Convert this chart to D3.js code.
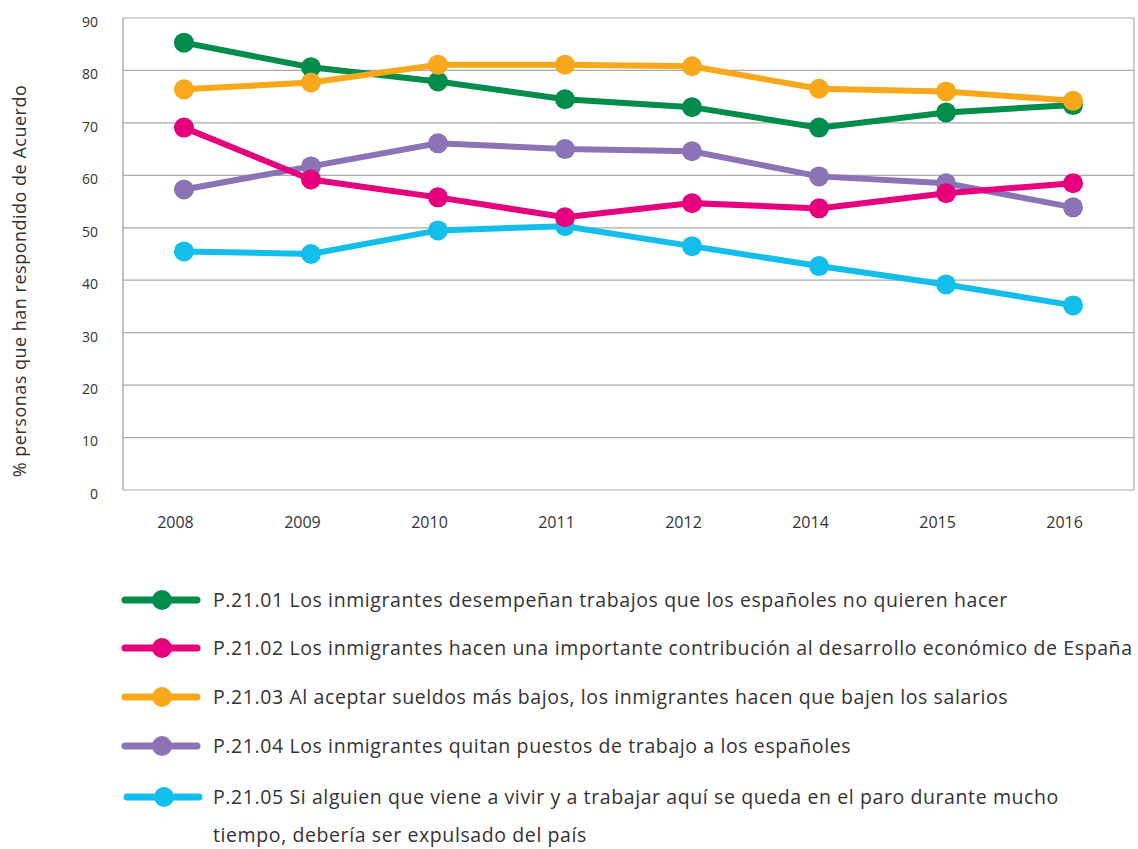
<!DOCTYPE html>
<html>
<head>
<meta charset="utf-8">
<script src="https://cdn.jsdelivr.net/npm/d3@7"></script>
<style>
  body { margin: 0; background: #fff; }
  svg text { font-family: "Open Sans", Lato, sans-serif; fill: #333; }
</style>
</head>
<body>
<div id="chart"></div>
<script>
// years on the x axis (2013 missing in source)
var years = ["2008", "2009", "2010", "2011", "2012", "2014", "2015", "2016"];
var yTicks = [0, 10, 20, 30, 40, 50, 60, 70, 80, 90];

var labels = [
  "P.21.01 Los inmigrantes desempeñan trabajos que los españoles no quieren hacer",
  "P.21.02 Los inmigrantes hacen una importante contribución al desarrollo económico de España",
  "P.21.03 Al aceptar sueldos más bajos, los inmigrantes hacen que bajen los salarios",
  "P.21.04 Los inmigrantes quitan puestos de trabajo a los españoles",
  "P.21.05 Si alguien que viene a vivir y a trabajar aquí se queda en el paro durante mucho|tiempo, debería ser expulsado del país"
];
var colors = ["#008c4a", "#e6007e", "#f9a81b", "#8b73b5", "#13beeb"];

var p2101 = [85.3, 80.6, 77.9, 74.5, 73.0, 69.1, 72.0, 73.4];
var p2102 = [69.1, 59.2, 55.8, 52.0, 54.7, 53.7, 56.6, 58.5];
var p2103 = [76.4, 77.7, 81.1, 81.1, 80.8, 76.5, 76.0, 74.2];
var p2104 = [57.3, 61.7, 66.1, 65.0, 64.6, 59.8, 58.5, 53.9];
var p2105 = [45.5, 45.0, 49.5, 50.3, 46.5, 42.7, 39.2, 35.2];

var series = [p2101, p2102, p2103, p2104, p2105];
var drawOrder = [4, 3, 1, 0, 2];

var width = 1138, height = 849;
var mLeft = 123, mRight = 1134, mTop = 18, mBottom = 490;

var svg = d3.select("#chart").append("svg")
    .attr("width", width).attr("height", height);

var x = d3.scalePoint().domain(years).range([mLeft, mRight]).padding(0.48);
var y = d3.scaleLinear().domain([0, 90]).range([mBottom, mTop]);

// grid lines
svg.append("g").selectAll("line").data(yTicks).enter().append("line")
    .attr("x1", mLeft).attr("x2", mRight)
    .attr("y1", function(d) { return y(d); })
    .attr("y2", function(d) { return y(d); })
    .attr("stroke", "#aaa").attr("stroke-width", 1.2);

// frame sides
svg.append("line").attr("x1", mLeft).attr("x2", mLeft).attr("y1", mTop).attr("y2", mBottom)
    .attr("stroke", "#999").attr("stroke-width", 1.2);
svg.append("line").attr("x1", mRight).attr("x2", mRight).attr("y1", mTop).attr("y2", mBottom)
    .attr("stroke", "#aaa").attr("stroke-width", 1.2);

// y axis labels
var yAxis = svg.append("g")
    .attr("transform", "translate(" + mLeft + ",0)")
    .call(d3.axisLeft(y).tickValues(yTicks).tickSize(0).tickPadding(25));
yAxis.select(".domain").remove();
yAxis.selectAll("text").attr("font-size", 14).attr("dy", "0.6em")
    .style("font-family", "'Open Sans', sans-serif").attr("fill", "#333");

// x axis labels
var xAxis = svg.append("g")
    .attr("transform", "translate(0," + mBottom + ")")
    .call(d3.axisBottom(x).tickSize(0).tickPadding(27));
xAxis.select(".domain").remove();
xAxis.selectAll("text").attr("font-size", 16).attr("dx", -9)
    .style("font-family", "'Open Sans', sans-serif").attr("fill", "#333");

// y title
svg.append("text")
    .attr("transform", "translate(26,281) rotate(-90)")
    .attr("text-anchor", "middle")
    .attr("font-size", 18)
    .attr("letter-spacing", 0.5)
    .text("% personas que han respondido de Acuerdo");

var line = d3.line()
    .x(function(d, i) { return x(years[i]); })
    .y(function(d) { return y(d); });

drawOrder.forEach(function(k) {
  var g = svg.append("g");
  g.append("path").datum(series[k])
      .attr("d", line)
      .attr("fill", "none")
      .attr("stroke", colors[k])
      .attr("stroke-width", 6);
  g.selectAll("circle").data(series[k]).enter().append("circle")
      .attr("cx", function(d, i) { return x(years[i]); })
      .attr("cy", function(d) { return y(d); })
      .attr("r", 10)
      .attr("fill", colors[k]);
});

// legend
var legY = [600, 648, 697, 746, 797];
var legend = svg.append("g");
labels.forEach(function(lab, i) {
  var g = legend.append("g").attr("transform", "translate(0," + legY[i] + ")");
  var x0 = i == 4 ? 127 : 125;
  g.append("line").attr("x1", x0).attr("x2", x0 + 72)
      .attr("stroke", colors[i]).attr("stroke-width", 7)
      .attr("stroke-linecap", "round");
  g.append("circle").attr("cx", x0 + 37).attr("r", 10).attr("fill", colors[i]);
  var parts = lab.split("|");
  parts.forEach(function(p, j) {
    g.append("text").attr("x", 213).attr("y", j * 38).attr("dy", "0.35em")
        .attr("font-size", 19.5).attr("letter-spacing", 0.6).text(p);
  });
});
</script>
</body>
</html>
